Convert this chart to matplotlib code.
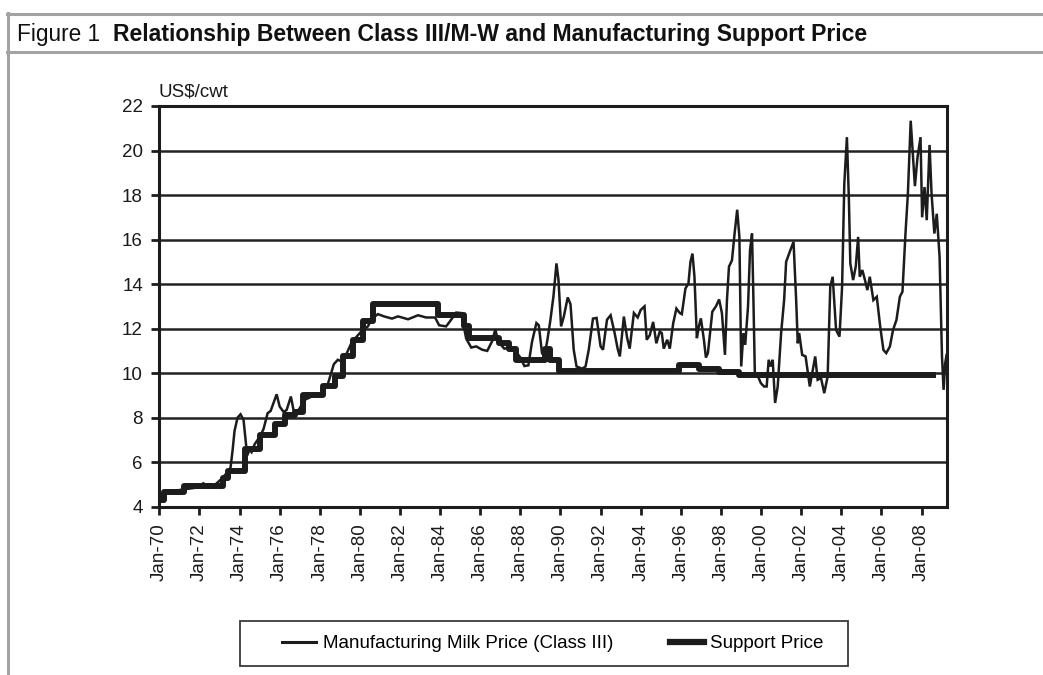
import matplotlib
matplotlib.use("Agg")
import matplotlib.pyplot as plt
from matplotlib.lines import Line2D
from matplotlib.patches import Rectangle

# ---------------- data ----------------
milk_year = [
    1970.00, 1970.08, 1970.17, 1970.50, 1971.00, 1971.40, 1971.80, 1972.20, 1972.40, 1972.80,
    1973.10, 1973.40, 1973.55, 1973.65, 1973.75, 1973.90, 1974.05, 1974.20, 1974.30, 1974.38,
    1974.50, 1974.60, 1974.75, 1974.90, 1975.05, 1975.20, 1975.40, 1975.55, 1975.85, 1976.00,
    1976.20, 1976.35, 1976.56, 1976.70, 1976.95, 1977.25, 1977.60, 1978.00, 1978.40, 1978.70,
    1978.90, 1979.15, 1979.35, 1979.60, 1979.85, 1980.10, 1980.40, 1980.60, 1980.90, 1981.20,
    1981.60, 1981.90, 1982.40, 1982.90, 1983.30, 1983.75, 1983.95, 1984.30, 1984.55, 1984.80,
    1985.05, 1985.30, 1985.55, 1985.80, 1986.10, 1986.35, 1986.60, 1986.75, 1986.90, 1987.20,
    1987.50, 1987.75, 1988.00, 1988.20, 1988.40, 1988.58, 1988.80, 1988.92, 1989.08, 1989.20,
    1989.35, 1989.50, 1989.65, 1989.80, 1989.90, 1990.03, 1990.17, 1990.36, 1990.50, 1990.66,
    1990.80, 1991.08, 1991.25, 1991.41, 1991.62, 1991.80, 1992.00, 1992.12, 1992.32, 1992.50,
    1992.70, 1992.85, 1992.96, 1993.16, 1993.32, 1993.45, 1993.66, 1993.85, 1994.00, 1994.19,
    1994.30, 1994.45, 1994.62, 1994.78, 1994.95, 1995.05, 1995.15, 1995.32, 1995.45, 1995.62,
    1995.78, 1995.95, 1996.05, 1996.23, 1996.38, 1996.48, 1996.58, 1996.68, 1996.80, 1996.90,
    1997.00, 1997.15, 1997.25, 1997.35, 1997.57, 1997.75, 1997.91, 1998.05, 1998.20, 1998.30,
    1998.40, 1998.55, 1998.68, 1998.81, 1998.92, 1999.01, 1999.12, 1999.21, 1999.35, 1999.45,
    1999.55, 1999.62, 1999.69, 1999.85, 1999.99, 2000.15, 2000.28, 2000.38, 2000.48, 2000.58,
    2000.70, 2000.83, 2001.00, 2001.15, 2001.25, 2001.46, 2001.62, 2001.75, 2001.83, 2001.90,
    2002.05, 2002.22, 2002.43, 2002.55, 2002.70, 2002.82, 2002.99, 2003.15, 2003.32, 2003.45,
    2003.57, 2003.74, 2003.91, 2004.04, 2004.15, 2004.28, 2004.38, 2004.45, 2004.59, 2004.72,
    2004.84, 2004.92, 2005.05, 2005.18, 2005.30, 2005.42, 2005.60, 2005.77, 2005.94, 2006.10,
    2006.24, 2006.42, 2006.58, 2006.75, 2006.92, 2007.05, 2007.20, 2007.32, 2007.46, 2007.58,
    2007.67, 2007.80, 2007.95, 2008.03, 2008.15, 2008.26, 2008.40, 2008.50, 2008.64, 2008.76,
    2008.90, 2009.02, 2009.10, 2009.18, 2009.25,
]
milk_price = [
    4.30, 4.35, 4.60, 4.65, 4.75, 4.80, 4.85, 5.05, 4.90, 5.00,
    5.25, 5.55, 5.75, 6.50, 7.40, 8.00, 8.15, 7.90, 7.00, 6.30,
    6.55, 6.45, 6.80, 7.00, 7.20, 7.50, 8.20, 8.30, 9.05, 8.50,
    8.25, 8.35, 8.95, 8.30, 8.35, 8.80, 8.95, 9.05, 9.50, 10.40,
    10.60, 10.50, 10.90, 11.40, 11.65, 11.90, 12.10, 12.45, 12.65, 12.55,
    12.45, 12.55, 12.42, 12.60, 12.50, 12.50, 12.15, 12.10, 12.40, 12.72,
    12.70, 11.55, 11.15, 11.20, 11.05, 11.00, 11.45, 11.97, 11.40, 11.10,
    11.15, 11.00, 10.70, 10.32, 10.35, 11.40, 12.25, 12.15, 10.90, 10.75,
    11.50, 12.40, 13.45, 14.93, 14.20, 12.10, 12.55, 13.40, 13.10, 11.05,
    10.30, 10.20, 10.30, 11.05, 12.45, 12.48, 11.20, 11.05, 12.40, 12.60,
    11.80, 11.10, 10.75, 12.54, 11.60, 11.10, 12.70, 12.50, 12.84, 13.00,
    11.50, 11.70, 12.30, 11.34, 11.87, 11.80, 11.10, 11.50, 11.10, 12.24,
    12.90, 12.70, 12.65, 13.80, 14.03, 15.00, 15.37, 14.33, 11.57, 12.10,
    12.46, 11.50, 10.70, 10.90, 12.76, 13.00, 13.31, 12.69, 10.82, 13.28,
    14.78, 15.07, 16.27, 17.34, 16.12, 10.30, 11.80, 11.27, 13.00, 15.52,
    16.27, 13.28, 10.00, 9.85, 9.55, 9.40, 9.40, 10.60, 10.30, 10.60,
    8.66, 9.40, 11.80, 13.28, 15.00, 15.52, 15.90, 13.28, 11.34, 11.80,
    10.82, 10.75, 9.40, 10.00, 10.75, 9.70, 9.78, 9.10, 9.85, 13.88,
    14.33, 11.94, 11.64, 13.88, 18.50, 20.60, 17.76, 14.93, 14.18, 14.78,
    16.12, 14.33, 14.63, 14.18, 13.73, 14.33, 13.28, 13.43, 12.09, 11.04,
    10.90, 11.19, 11.94, 12.39, 13.43, 13.66, 16.27, 18.06, 21.34, 19.70,
    18.40, 19.70, 20.60, 17.00, 18.36, 16.87, 20.25, 18.06, 16.27, 17.16,
    15.22, 10.75, 9.25, 10.45, 10.82,
]

# support price: start of each level (decimal year) and level
support_start = [
    1970.00, 1970.25, 1971.25, 1973.17, 1973.42, 1974.25, 1975.00, 1975.75, 1976.25, 1976.75,
    1977.17, 1978.17, 1978.75, 1979.17, 1979.67, 1980.17, 1980.67, 1983.88, 1985.17, 1985.42,
    1986.92, 1987.42, 1987.80, 1989.25, 1989.50, 1989.92, 1995.92, 1996.92, 1997.92, 1998.92,
]
support_price = [
    4.28, 4.66, 4.93, 5.29, 5.61, 6.57, 7.24, 7.71, 8.13, 8.26,
    9.00, 9.43, 9.87, 10.76, 11.49, 12.36, 13.10, 12.60, 12.10, 11.60,
    11.35, 11.10, 10.60, 11.10, 10.60, 10.10, 10.35, 10.20, 10.05, 9.90,
]
support_end = 2008.58

y_ticks = [4, 6, 8, 10, 12, 14, 16, 18, 20, 22]
x_tick_years = list(range(1970, 2009, 2))
x_tick_labels = ["Jan-%02d" % (y % 100) for y in x_tick_years]

series_names = ["Manufacturing Milk Price (Class III)", "Support Price"]
title_prefix = "Figure 1"
title_text = "Relationship Between Class III/M-W and Manufacturing Support Price"
unit_label = "US$/cwt"

# ---------------- figure ----------------
W, H = 1043, 675
plt.rcParams['font.family'] = ['Liberation Sans', 'DejaVu Sans']
fig = plt.figure(figsize=(W / 100, H / 100), dpi=100)
fig.patch.set_facecolor('white')

def fx(px):
    return px / W

def fy(py):
    return 1 - py / H

# frame of the figure box
frame_col = '#a3a3a3'
fig.add_artist(Line2D([fx(7), 1.0], [fy(13.5), fy(13.5)], color=frame_col, lw=2.2))
fig.add_artist(Line2D([fx(7), 1.0], [fy(51.5), fy(51.5)], color=frame_col, lw=2.2))
fig.add_artist(Line2D([fx(8), fx(8)], [fy(12.5), 0.0], color=frame_col, lw=2.2))

fig.text(fx(17), fy(41.5), title_prefix, fontsize=16.3, va='baseline', ha='left', color='#111111')
fig.text(fx(113), fy(41.5), title_text, fontsize=16.6, fontweight='bold',
         va='baseline', ha='left', color='#111111')

# axes
left, right, top, bottom = 159.3, 946.6, 106.0, 506.7
ax = fig.add_axes([fx(left), fy(bottom), fx(right) - fx(left), (bottom - top) / H])

ink = '#1c1c1c'
ax.set_xlim(1970, 2009.25)
ax.set_ylim(4, 22)
ax.set_yticks(y_ticks)
ax.set_yticklabels([str(v) for v in y_ticks])
ax.set_xticks(x_tick_years)
ax.set_xticklabels(x_tick_labels, rotation=90)
ax.tick_params(axis='both', direction='out', length=5.8, width=2.0, color=ink,
               labelsize=13.5, labelcolor='#1a1a1a')
ax.tick_params(axis='x', pad=6)
ax.tick_params(axis='y', pad=6)
for s in ax.spines.values():
    s.set_linewidth(2.2)
    s.set_color(ink)

ax.yaxis.grid(True, color='#222222', linewidth=1.8)
ax.set_axisbelow(True)

l1, = ax.plot(milk_year, milk_price, color=ink, linewidth=1.8, solid_joinstyle='miter', zorder=3)
sx = support_start + [support_end]
sy = support_price + [support_price[-1]]
l2, = ax.step(sx, sy, where='post', color=ink, linewidth=4.3, zorder=4)

fig.text(fx(158), fy(96), unit_label, fontsize=13.5, ha='left', va='baseline', color='#1a1a1a')

# legend
h1 = Line2D([], [], color=ink, linewidth=2.2)
h2 = Line2D([], [], color=ink, linewidth=4.5)
fig.legend([h1, h2], series_names, ncol=2, frameon=False, loc='center',
           bbox_to_anchor=(fx(553), fy(643.5)), fontsize=13.5,
           handlelength=1.81, handletextpad=0.37, columnspacing=3.0,
           borderpad=0.0, borderaxespad=0.0)
fig.add_artist(Rectangle((fx(240), fy(666)), fx(848) - fx(240), (666 - 621) / H,
                         transform=fig.transFigure, fill=False, edgecolor='#3a3a3a', lw=1.3))

fig.savefig('out.png', dpi=100, facecolor='white')
